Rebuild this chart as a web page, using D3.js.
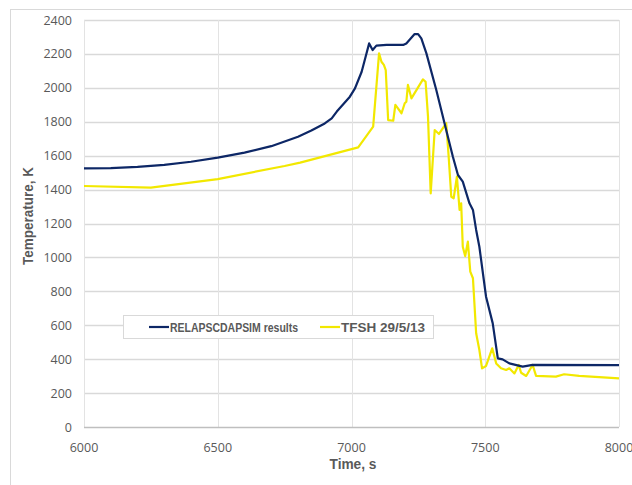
<!DOCTYPE html>
<html>
<head>
<meta charset="utf-8">
<script src="https://cdn.jsdelivr.net/npm/d3@7"></script>
<style>
  body { margin: 0; background: #fff; }
  text { font-family: "Open Sans", "Liberation Sans", sans-serif; fill: #595959; }
  .title { font-family: "Liberation Sans Narrow", "Liberation Sans", sans-serif; font-weight: bold; }
</style>
</head>
<body>
<script>
// simulation curve (time s, temperature K)
const relapTime = [6000, 6100, 6200, 6300, 6400, 6500, 6600, 6700, 6800, 6850, 6900, 6926, 6945, 6994, 7013, 7038, 7056, 7066, 7079, 7093, 7131, 7193, 7205, 7236, 7249, 7261, 7280, 7317, 7354, 7379, 7398, 7416, 7441, 7454, 7466, 7478, 7503, 7528, 7547, 7565, 7590, 7640, 7677, 8000];
const relapTemp = [1525, 1527, 1534, 1546, 1564, 1588, 1618, 1656, 1712, 1748, 1790, 1820, 1860, 1948, 1997, 2095, 2203, 2262, 2223, 2249, 2253, 2253, 2262, 2317, 2317, 2292, 2203, 1987, 1751, 1594, 1486, 1447, 1319, 1280, 1162, 1063, 768, 611, 405, 399, 375, 356, 366, 365];

// test data
const tfshTime = [6000, 6250, 6500, 6750, 6808, 7025, 7081, 7103, 7112, 7121, 7128, 7137, 7156, 7164, 7187, 7199, 7205, 7211, 7224, 7267, 7277, 7286, 7296, 7311, 7327, 7354, 7363, 7373, 7382, 7394, 7404, 7410, 7416, 7425, 7435, 7444, 7454, 7466, 7478, 7488, 7503, 7526, 7541, 7559, 7578, 7590, 7609, 7625, 7634, 7653, 7677, 7690, 7764, 7795, 7851, 8000];
const tfshTemp = [1421, 1412, 1462, 1539, 1559, 1649, 1771, 2203, 2154, 2135, 2105, 1810, 1806, 1899, 1850, 1909, 1918, 2017, 1938, 2050, 2036, 1830, 1378, 1751, 1728, 1791, 1600, 1358, 1349, 1476, 1280, 1319, 1063, 1008, 1093, 916, 877, 553, 454, 346, 360, 464, 375, 346, 336, 346, 316, 366, 320, 301, 366, 301, 297, 311, 301, 287];

const xTicks = [6000, 6500, 7000, 7500, 8000];
const yTicks = [0, 200, 400, 600, 800, 1000, 1200, 1400, 1600, 1800, 2000, 2200, 2400];
const seriesNames = ["RELAPSCDAPSIM results", "TFSH 29/5/13"];
const seriesColors = ["#0d2766", "#f2e800"];

const width = 632, height = 485;
const svg = d3.select("body").append("svg").attr("width", width).attr("height", height);

svg.append("rect").attr("x", 10.5).attr("y", 9.5).attr("width", 640).attr("height", 500)
  .attr("fill", "none").attr("stroke", "#d9d9d9");

const x = d3.scaleLinear().domain([6000, 8000]).range([84, 619]);
const y = d3.scaleLinear().domain([0, 2400]).range([427, 20]);

// grid
svg.append("g").selectAll("line").data(yTicks.slice(1)).enter().append("line")
  .attr("x1", x(6000)).attr("x2", x(8000))
  .attr("y1", d => Math.round(y(d)) + 0.5).attr("y2", d => Math.round(y(d)) + 0.5)
  .attr("stroke", "#d9d9d9").attr("stroke-width", 1.3);
svg.append("g").selectAll("line").data(xTicks).enter().append("line")
  .attr("x1", d => Math.round(x(d)) + 0.5).attr("x2", d => Math.round(x(d)) + 0.5)
  .attr("y1", y(0)).attr("y2", y(2400))
  .attr("stroke", "#e3e3e3").attr("stroke-width", 1);
svg.append("line").attr("x1", x(6000)).attr("x2", x(8000))
  .attr("y1", Math.round(y(0)) + 0.5).attr("y2", Math.round(y(0)) + 0.5)
  .attr("stroke", "#bfbfbf").attr("stroke-width", 1.3);

// tick labels
svg.append("g").selectAll("text").data(yTicks).enter().append("text")
  .attr("x", 72).attr("y", d => y(d) + 4.5).attr("text-anchor", "end")
  .attr("font-size", 12.5).text(d => d);
svg.append("g").selectAll("text").data(xTicks).enter().append("text")
  .attr("x", d => x(d)).attr("y", 452).attr("text-anchor", "middle")
  .attr("font-size", 12.5).text(d => d);

svg.append("text").attr("class", "title").attr("x", 353).attr("y", 469)
  .attr("text-anchor", "middle").attr("font-size", 14)
  .attr("textLength", 47).attr("lengthAdjust", "spacingAndGlyphs").text("Time, s");
svg.append("text").attr("class", "title")
  .attr("transform", "translate(33,216) rotate(-90)")
  .attr("text-anchor", "middle").attr("font-size", 14)
  .attr("textLength", 98).attr("lengthAdjust", "spacingAndGlyphs").text("Temperature, K");

// lines
const line = d3.line().x(d => x(d[0])).y(d => y(d[1]));
svg.append("path").datum(d3.zip(tfshTime, tfshTemp)).attr("d", line)
  .attr("fill", "none").attr("stroke", seriesColors[1]).attr("stroke-width", 2.2)
  .attr("stroke-linejoin", "round");
svg.append("path").datum(d3.zip(relapTime, relapTemp)).attr("d", line)
  .attr("fill", "none").attr("stroke", seriesColors[0]).attr("stroke-width", 2.2)
  .attr("stroke-linejoin", "round");

// legend
const lg = svg.append("g");
lg.append("rect").attr("x", 123.5).attr("y", 315.5).attr("width", 310).attr("height", 23)
  .attr("fill", "#fff").attr("stroke", "#d9d9d9");
const items = [{ x: 149, w: 128 }, { x: 320, w: 84 }];
items.forEach((it, i) => {
  lg.append("line").attr("x1", it.x).attr("x2", it.x + 20).attr("y1", 327).attr("y2", 327)
    .attr("stroke", seriesColors[i]).attr("stroke-width", 2.2);
  lg.append("text").attr("class", "title").attr("x", it.x + 21).attr("y", 331.5)
    .attr("font-size", 12.5).attr("textLength", it.w).attr("lengthAdjust", "spacingAndGlyphs")
    .text(seriesNames[i]);
});
</script>
</body>
</html>
